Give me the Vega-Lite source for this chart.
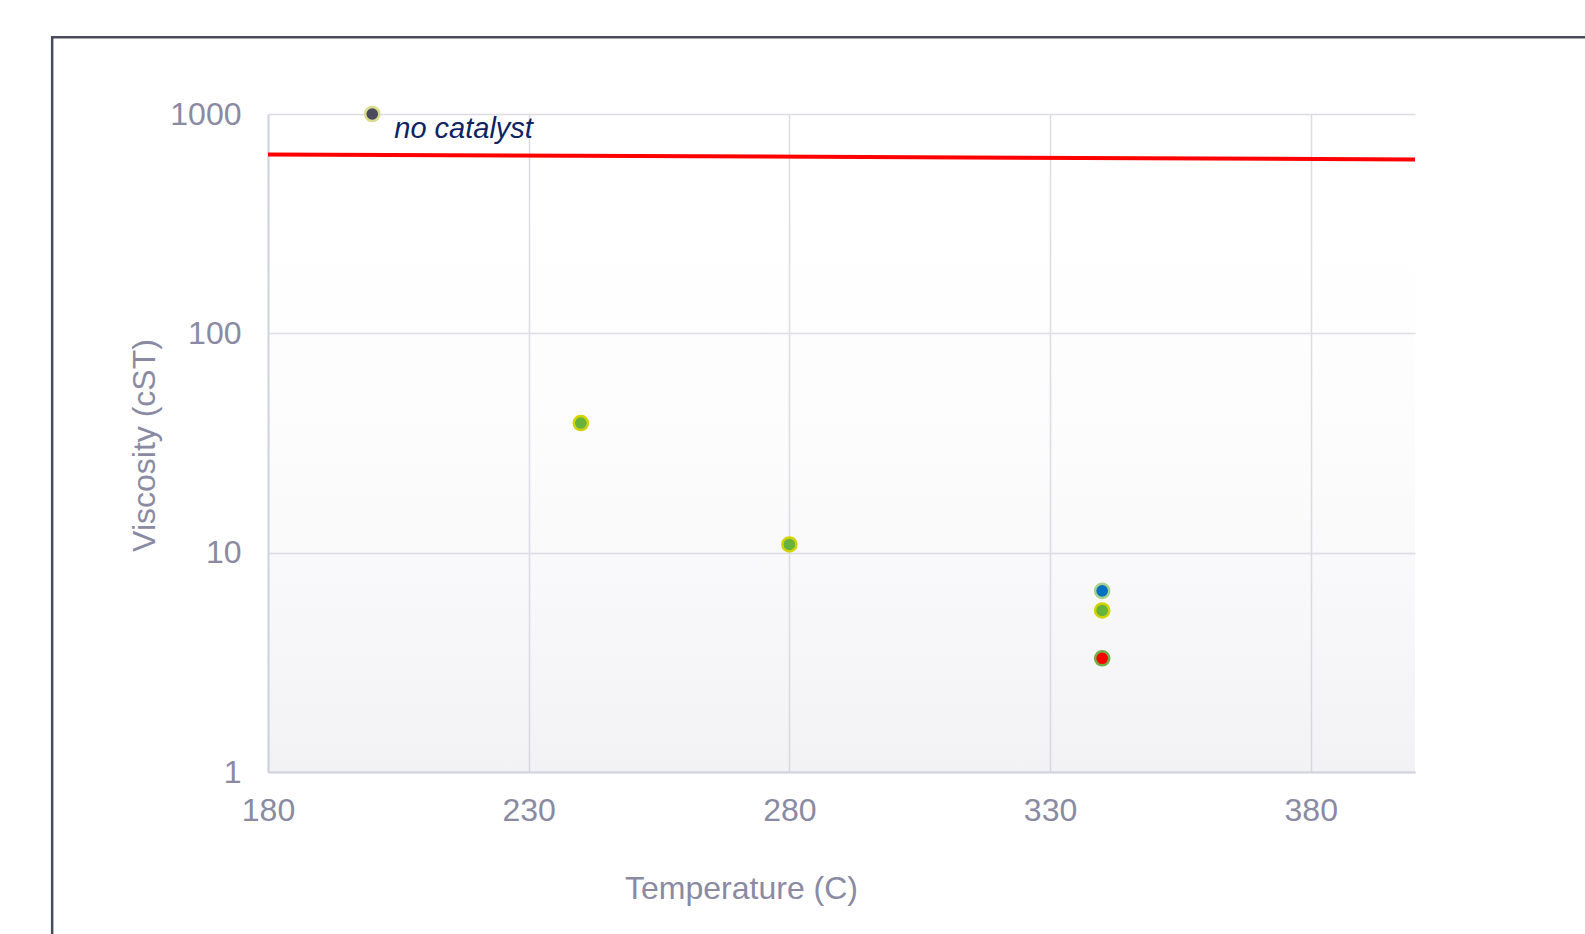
{
  "$schema": "https://vega.github.io/schema/vega-lite/v6.json",
  "autosize": {"type": "none"},
  "width": 1147,
  "height": 658,
  "padding": {"left": 268, "top": 114, "right": 170, "bottom": 162},
  "background": "#ffffff",
  "config": {
    "view": {"stroke": null},
    "font": "Liberation Sans",
    "axis": {
      "labelFont": "Liberation Sans",
      "titleFont": "Liberation Sans",
      "labelFontSize": 32,
      "titleFontSize": 32,
      "labelColor": "#8a8aa3",
      "titleColor": "#8a8aa3",
      "titleFontWeight": "normal",
      "gridColor": "#dcdce6",
      "gridOpacity": 1,
      "gridWidth": 1.5,
      "domainColor": "#d4d4e0",
      "domainWidth": 2,
      "ticks": false,
      "labelFlush": false
    }
  },
  "datasets": {
    "points": [
      {"Temperature": 200, "Viscosity": 1000, "series": "no catalyst"},
      {"Temperature": 240, "Viscosity": 39, "series": "green"},
      {"Temperature": 280, "Viscosity": 10.9, "series": "green"},
      {"Temperature": 340, "Viscosity": 6.7, "series": "blue"},
      {"Temperature": 340, "Viscosity": 5.45, "series": "green"},
      {"Temperature": 340, "Viscosity": 3.3, "series": "red"}
    ],
    "line": [
      {"Temperature": 180, "Viscosity": 654},
      {"Temperature": 400, "Viscosity": 621}
    ],
    "label": [
      {"Temperature": 200, "Viscosity": 1000, "text": "no catalyst"}
    ]
  },
  "layer": [
    {
      "data": {"values": [{}]},
      "mark": {"type": "rect", "clip": false, "fill": null, "filled": false, "stroke": "#4a4a5c", "strokeWidth": 2.5},
      "encoding": {
        "x": {"datum": 138.6, "type": "quantitative", "scale": {"domain": [180, 400], "nice": false, "zero": false}},
        "x2": {"datum": 700},
        "y": {"datum": 2236, "type": "quantitative", "scale": {"type": "log", "domain": [1, 1000], "nice": false}},
        "y2": {"datum": 0.001}
      }
    },
    {
      "data": {"values": [{}]},
      "mark": {
        "type": "rect",
        "fill": {
          "gradient": "linear",
          "x1": 0, "y1": 0, "x2": 0, "y2": 1,
          "stops": [
            {"offset": 0, "color": "rgba(255,255,255,0)"},
            {"offset": 1, "color": "rgba(190,190,205,0.2)"}
          ]
        }
      },
      "encoding": {
        "x": {"datum": 180, "type": "quantitative"},
        "x2": {"datum": 400},
        "y": {"datum": 1000, "type": "quantitative"},
        "y2": {"datum": 1}
      }
    },
    {
      "data": {"name": "line"},
      "mark": {"type": "line", "color": "#ff0000", "strokeWidth": 4},
      "encoding": {
        "x": {
          "field": "Temperature", "type": "quantitative",
          "scale": {"domain": [180, 400], "nice": false, "zero": false},
          "axis": {
            "grid": true,
            "values": [180, 230, 280, 330, 380],
            "title": "Temperature (C)",
            "labelPadding": 23,
            "titleX": 473,
            "titleY": 116,
            "titleBaseline": "middle",
            "titleAlign": "center"
          }
        },
        "y": {
          "field": "Viscosity", "type": "quantitative",
          "scale": {"type": "log", "domain": [1, 1000], "nice": false},
          "axis": {
            "grid": true,
            "values": [1, 10, 100, 1000],
            "format": ".0f",
            "title": "Viscosity (cST)",
            "labelPadding": 27,
            "titleX": -124,
            "titleY": 331,
            "titleBaseline": "middle",
            "titleAlign": "center",
            "titleAngle": -90
          }
        }
      }
    },
    {
      "data": {"name": "points"},
      "mark": {"type": "point", "shape": "circle", "filled": true, "opacity": 1, "size": 200, "strokeWidth": 2.5, "strokeOpacity": 1},
      "encoding": {
        "x": {"field": "Temperature", "type": "quantitative"},
        "y": {"field": "Viscosity", "type": "quantitative"},
        "fill": {
          "field": "series", "type": "nominal", "legend": null,
          "scale": {"domain": ["no catalyst", "green", "blue", "red"], "range": ["#4b4b5e", "#6ab23e", "#0070c0", "#ff0000"]}
        },
        "stroke": {
          "field": "series", "type": "nominal", "legend": null,
          "scale": {"domain": ["no catalyst", "green", "blue", "red"], "range": ["#d8dc8c", "#d2d400", "#a9d18e", "#70ad47"]}
        }
      }
    },
    {
      "data": {"name": "label"},
      "mark": {"type": "text", "align": "left", "baseline": "middle", "dx": 22, "dy": 15, "font": "Liberation Sans", "fontStyle": "italic", "fontSize": 29, "color": "#0c2461"},
      "encoding": {
        "x": {"field": "Temperature", "type": "quantitative"},
        "y": {"field": "Viscosity", "type": "quantitative"},
        "text": {"field": "text"}
      }
    }
  ]
}
